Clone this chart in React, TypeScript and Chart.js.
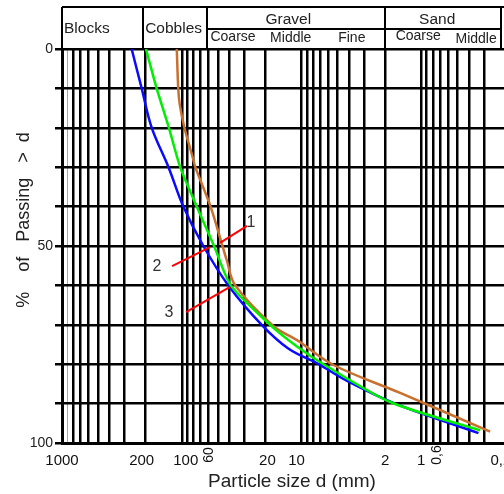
import React, { useEffect, useRef } from 'react';
import { Chart, registerables } from 'chart.js';

Chart.register(...registerables);

// ---- data ----
const blueX = [262, 216, 178, 129, 97, 66, 40.8, 21.5, 12.9, 7.2, 4.3, 1.65, 0.333];
const blueY = [0, 10, 20, 30, 40, 50, 60, 70, 76, 80, 84, 90, 97.5];

const greenX = [199, 162, 128, 103, 75, 53.7, 38.9, 18.3, 10.9, 6.56, 1.82, 0.322];
const greenY = [0, 10, 20, 30, 40, 50, 60, 70, 75.5, 80, 89.6, 96.8];

const brownX = [110, 107, 104, 95, 82.5, 77, 57, 45.4, 42.1, 35.9, 17.2, 10.9, 5.4, 1.5, 0.266];
const brownY = [0, 10, 14, 20, 26.6, 30, 40.3, 50.3, 53.6, 59.9, 70.3, 73.9, 80.2, 87.3, 97.1];

const xGridValues = [
  1000, 900, 800, 700, 600, 500, 400, 300, 200,
  100, 90, 80, 70, 60, 50, 40, 30, 20,
  10, 9, 8, 7, 6, 5, 4, 3, 2,
  1, 0.9, 0.8, 0.7, 0.6, 0.5, 0.4, 0.3, 0.2,
];
const xLabelValues = [1000, 200, 100, 60, 20, 10, 2, 1, 0.6, 0.2];
const xLabelTexts = ['1000', '200', '100', '60', '20', '10', '2', '1', '0,6', '0,2'];
const xLabelVertical = [false, false, false, true, false, false, false, false, true, false];

const yLabelValues = [0, 50, 100];

// header classes: boundaries in mm
const headerBounds = [1000, 210, 61, 2, 0.215];
const headerTitles = ['Blocks', 'Cobbles', 'Gravel', 'Sand'];
const headerTitleAt = [1000, 210, 12.9, 0.736];
const subTitles = ['Coarse', 'Middle', 'Fine', 'Coarse', 'Middle'];
const subTitleAt = [37.3, 12.3, 3.8, 1.06, 0.348];

// curve labels with leader lines
const leaderNames = ['1', '2', '3'];
const leaderStartX = [47.9, 120.5, 92];
const leaderStartY = [49.2, 55.1, 66.8];
const leaderEndX = [28.5, 58, 39.5];
const leaderEndY = [44.9, 50.3, 60.4];
const leaderTextX = [26.4, 160.8, 127.7];
const leaderTextY = [44.0, 55.2, 66.8];

const FONT = '"Liberation Sans", Arial, sans-serif';

const pts = (xs: number[], ys: number[]) => xs.map((x, i) => ({ x, y: ys[i] }));

const overlayPlugin = {
  id: 'overlay',
  afterDatasetsDraw(chart: any) {
    const { ctx, scales } = chart;
    const x = scales.x;
    const y = scales.y;
    ctx.save();
    ctx.strokeStyle = '#ff0000';
    ctx.lineWidth = 2;
    for (let i = 0; i < leaderNames.length; i++) {
      ctx.beginPath();
      ctx.moveTo(x.getPixelForValue(leaderStartX[i]), y.getPixelForValue(leaderStartY[i]));
      ctx.lineTo(x.getPixelForValue(leaderEndX[i]), y.getPixelForValue(leaderEndY[i]));
      ctx.stroke();
    }
    ctx.fillStyle = '#333';
    ctx.font = `16px ${FONT}`;
    ctx.textAlign = 'center';
    ctx.textBaseline = 'middle';
    for (let i = 0; i < leaderNames.length; i++) {
      ctx.fillText(leaderNames[i], x.getPixelForValue(leaderTextX[i]), y.getPixelForValue(leaderTextY[i]));
    }
    ctx.restore();
  },
  afterDraw(chart: any) {
    const { ctx, chartArea, scales } = chart;
    const x = scales.x;
    ctx.save();

    // ---- header ----
    const top = 7;
    const mid = 29;
    const bot = chartArea.top;
    ctx.strokeStyle = '#000';
    ctx.lineWidth = 2;
    ctx.beginPath();
    ctx.moveTo(chartArea.left, top);
    ctx.lineTo(chartArea.right, top);
    for (const b of headerBounds) {
      const px = Math.round(x.getPixelForValue(b));
      ctx.moveTo(px, top);
      ctx.lineTo(px, bot);
    }
    ctx.moveTo(x.getPixelForValue(headerBounds[2]), mid);
    ctx.lineTo(x.getPixelForValue(headerBounds[4]), mid);
    ctx.stroke();

    ctx.fillStyle = '#222';
    ctx.textBaseline = 'alphabetic';
    ctx.font = `15.5px ${FONT}`;
    ctx.textAlign = 'left';
    ctx.fillText(headerTitles[0], x.getPixelForValue(headerTitleAt[0]) + 2, 33);
    ctx.fillText(headerTitles[1], x.getPixelForValue(headerTitleAt[1]) + 2, 33);
    ctx.textAlign = 'center';
    ctx.fillText(headerTitles[2], x.getPixelForValue(headerTitleAt[2]), 24);
    ctx.fillText(headerTitles[3], x.getPixelForValue(headerTitleAt[3]), 24);
    ctx.font = `14px ${FONT}`;
    const subBase = [41, 42, 41.5, 40, 42.5];
    subTitles.forEach((t, i) => {
      ctx.fillText(t, x.getPixelForValue(subTitleAt[i]), subBase[i]);
    });

    // ---- x tick labels ----
    const nudge = [0, -4, 4, 1, 2, -5, 0, 0, -11, -4];
    ctx.fillStyle = '#111';
    xLabelValues.forEach((v, i) => {
      const px = x.getPixelForValue(v) + nudge[i];
      if (xLabelVertical[i]) {
        ctx.save();
        ctx.font = `14px ${FONT}`;
        ctx.translate(px, 455);
        ctx.rotate(-Math.PI / 2);
        ctx.textAlign = 'center';
        ctx.textBaseline = 'middle';
        ctx.fillText(xLabelTexts[i], 0, 0);
        ctx.restore();
      } else {
        ctx.font = `15px ${FONT}`;
        ctx.textAlign = 'center';
        ctx.textBaseline = 'alphabetic';
        ctx.fillText(xLabelTexts[i], px, 465);
      }
    });

    // ---- axis titles ----
    ctx.fillStyle = '#222';
    ctx.font = `19px ${FONT}`;
    ctx.textAlign = 'center';
    ctx.textBaseline = 'alphabetic';
    ctx.fillText('Particle size d (mm)', 292, 487);

    ctx.save();
    ctx.font = `18px ${FONT}`;
    ctx.translate(24, 220);
    ctx.rotate(-Math.PI / 2);
    ctx.textAlign = 'center';
    ctx.textBaseline = 'middle';
    ctx.fillText('%    of   Passing   >  d', 0, 0);
    ctx.restore();

    ctx.restore();
  },
};

export default function App() {
  const canvasRef = useRef<HTMLCanvasElement | null>(null);

  useEffect(() => {
    if (!canvasRef.current) return;
    Chart.defaults.font.family = FONT;
    const chart = new Chart(canvasRef.current, {
      type: 'line',
      data: {
        datasets: [
          {
            label: '2',
            data: pts(greenX, greenY),
            borderColor: '#00ee00',
            borderWidth: 2.5,
            pointRadius: 0,
            tension: 0.25,
            fill: false,
          },
          {
            label: '3',
            data: pts(blueX, blueY),
            borderColor: '#0a0aff',
            borderWidth: 2.5,
            pointRadius: 0,
            tension: 0.35,
            fill: false,
          },
          {
            label: '1',
            data: pts(brownX, brownY),
            borderColor: '#c8702e',
            borderWidth: 2.5,
            pointRadius: 0,
            tension: 0.35,
            fill: false,
          },
        ],
      },
      options: {
        animation: false,
        responsive: false,
        events: [],
        layout: { padding: { top: 49, right: 4, bottom: 0, left: 0 } },
        plugins: { legend: { display: false }, tooltip: { enabled: false } },
        scales: {
          x: {
            type: 'logarithmic',
            reverse: true,
            min: 0.1,
            max: 1000,
            afterBuildTicks: (s: any) => {
              s.ticks = xGridValues.map((v) => ({ value: v }));
            },
            afterFit: (s: any) => {
              s.height = 51;
            },
            ticks: { display: false },
            grid: {
              color: (c: any) => (c.tick && c.tick.value === 900 ? '#a8a8a8' : '#000'),
              lineWidth: (c: any) => (c.tick && c.tick.value === 900 ? 1 : 2.5),
              drawTicks: false,
            },
            border: { color: '#000', width: 3 },
          },
          y: {
            type: 'linear',
            reverse: true,
            min: 0,
            max: 100,
            afterFit: (s: any) => {
              s.width = 62;
            },
            ticks: {
              stepSize: 10,
              autoSkip: false,
              padding: 2,
              color: '#222',
              font: { size: 14, family: FONT },
              callback: (v: any) => (yLabelValues.includes(Number(v)) ? String(v) : ''),
            },
            grid: { color: '#000', lineWidth: 2.5, drawTicks: true, tickLength: 7 },
            border: { color: '#000', width: 3 },
          },
        },
      },
      plugins: [overlayPlugin],
    } as any);
    return () => chart.destroy();
  }, []);

  return (
    <div
      style={{
        position: 'fixed',
        left: 0,
        top: 0,
        width: 504,
        height: 494,
        overflow: 'hidden',
        background: '#fff',
      }}
    >
      <canvas ref={canvasRef} width={545} height={494} style={{ display: 'block', width: 545, height: 494 }} />
    </div>
  );
}
